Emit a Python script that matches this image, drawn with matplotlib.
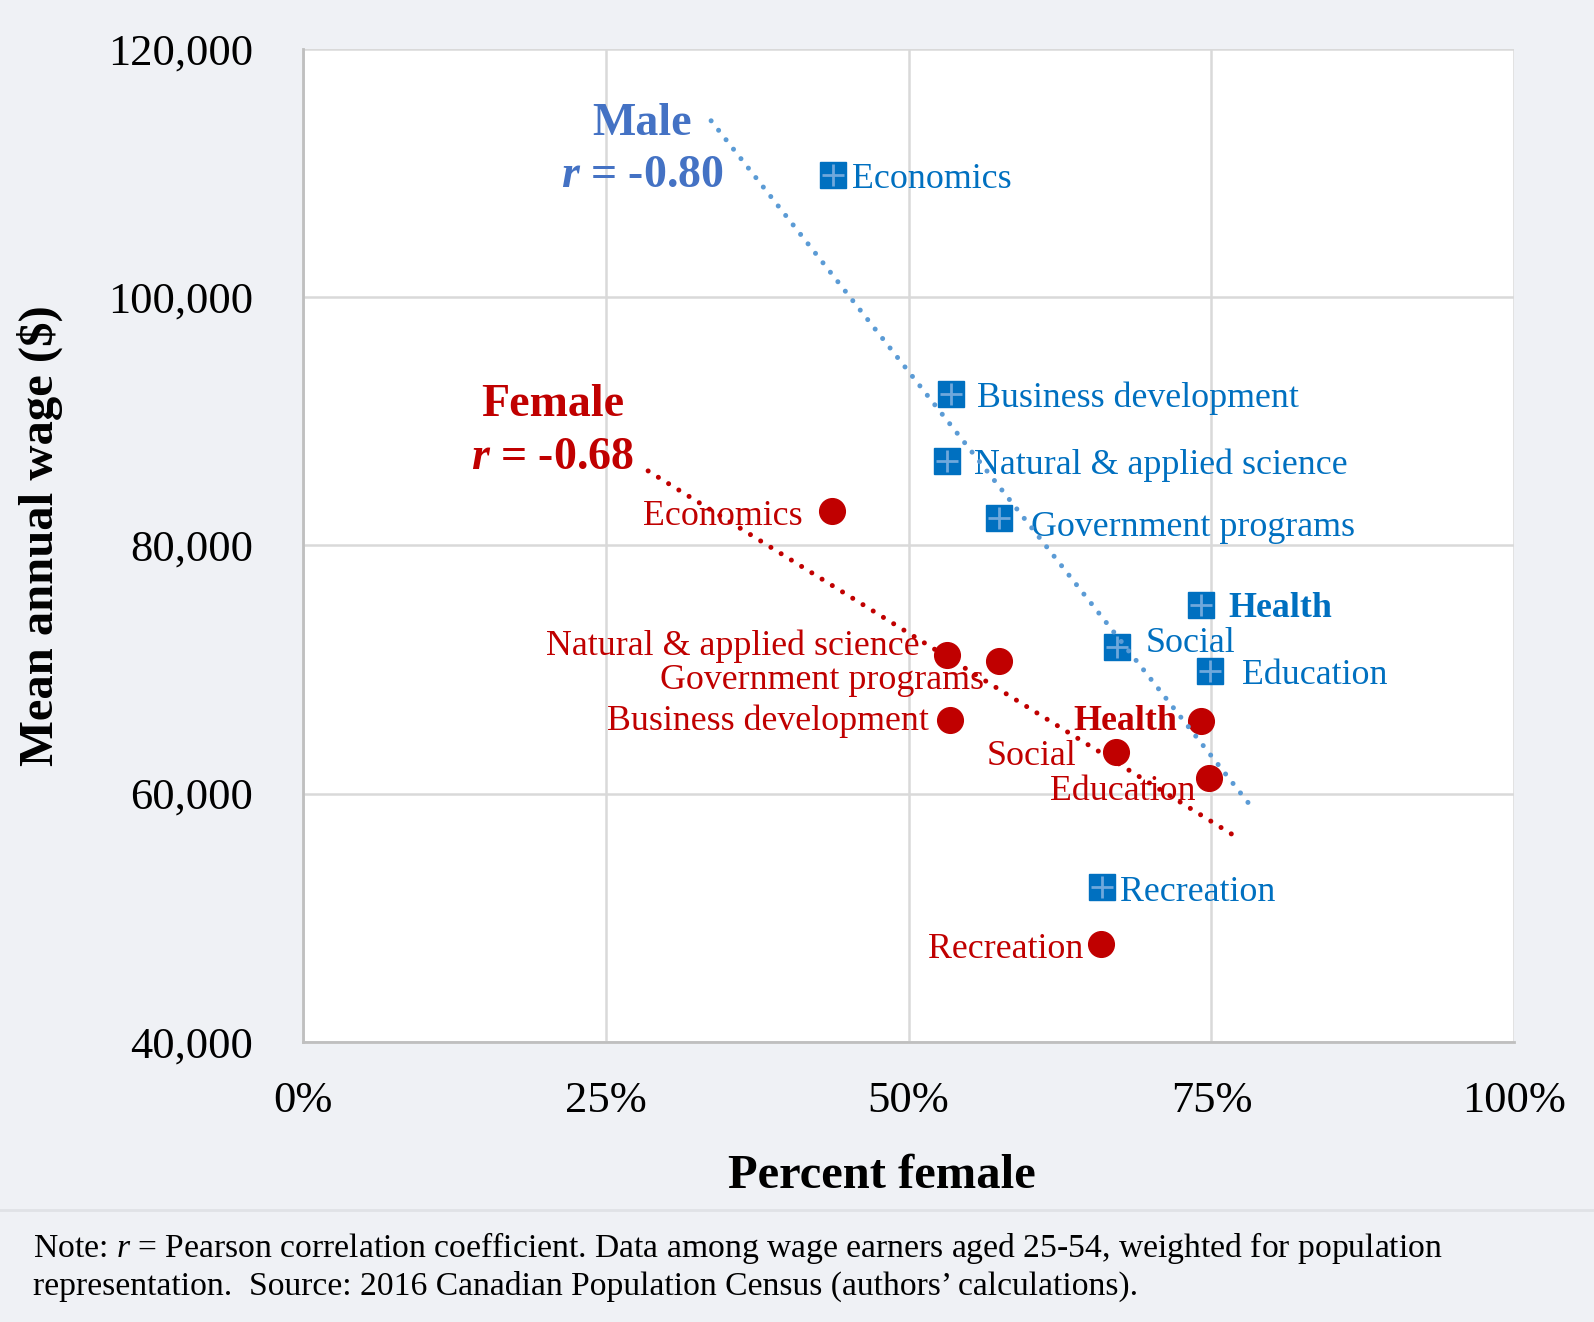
import numpy as np
import matplotlib
matplotlib.use("Agg")
import matplotlib.pyplot as plt

plt.rcParams['font.family'] = ['Liberation Serif', 'DejaVu Serif']
plt.rcParams['mathtext.fontset'] = 'custom'
plt.rcParams['mathtext.rm'] = 'Liberation Serif'
plt.rcParams['mathtext.it'] = 'Liberation Serif:italic'
plt.rcParams['mathtext.bf'] = 'Liberation Serif:bold'
plt.rcParams['mathtext.bfit'] = 'Liberation Serif:bold:italic'

# данные
fields = ["Economics", "Business development", "Natural & applied science",
          "Government programs", "Health", "Social", "Education", "Recreation"]
male_pct = [43.8, 53.5, 53.2, 57.5, 74.1, 67.2, 74.9, 66.0]
male_wage = [109850, 92160, 86755, 82170, 75210, 71770, 69890, 52450]
female_pct = [43.7, 53.4, 53.2, 57.5, 74.1, 67.1, 74.8, 65.9]
female_wage = [82740, 65960, 71200, 70700, 65875, 63340, 61290, 47860]
male_r = -0.80
female_r = -0.68
male_trend_range = [33.7, 78.6]
female_trend_range = [28.5, 76.9]

# смещения подписей (в пунктах)
male_offsets = [(13, -3), (19, -3), (19, -3), (23, -6.5), (20, -3), (20.5, 2.5), (23, -3.5), (13, -3.5)]
female_offsets = [(-21, -3.5), (-15, -1.5), (-20, 6), (-11, -14), (-17, -0.5), (-28.5, -3.5), (-9.5, -10), (-13, -3.5)]

BG = '#EFF1F5'
MALE = '#0070C0'
MALE_TITLE = '#4472C4'
MALE_TREND = '#5B9BD5'
FEMALE = '#C00000'

fig = plt.figure(figsize=(15.94, 13.22), dpi=100, facecolor=BG)
ax = fig.add_axes([0.190, 0.212, 0.760, 0.751])
ax.set_facecolor('white')

ax.set_xlim(0, 100)
ax.set_ylim(40000, 120000)
ax.set_xticks([0, 25, 50, 75, 100])
ax.set_xticklabels(['0%', '25%', '50%', '75%', '100%'])
ax.set_yticks([40000, 60000, 80000, 100000, 120000])
ax.set_yticklabels([f"{v:,}" for v in [40000, 60000, 80000, 100000, 120000]])
ax.tick_params(length=0, labelsize=32, colors='black')
ax.tick_params(axis='x', pad=28)
ax.tick_params(axis='y', pad=36)
ax.grid(True, color='#D9D9D9', lw=1.8)
ax.set_axisbelow(True)
for s in ['top', 'right']:
    ax.spines[s].set_visible(False)
for s in ['left', 'bottom']:
    ax.spines[s].set_color('#BFBFBF')
    ax.spines[s].set_linewidth(2)

# точки
ax.plot(male_pct, male_wage, 's', ms=19, color=MALE, zorder=3)
ax.plot(male_pct, male_wage, '+', ms=16, mew=2, color='#6FA8DC', zorder=3.1)
ax.plot(female_pct, female_wage, 'o', ms=18.5, color=FEMALE, zorder=3)

# линии тренда
dot = dict(lw=3.6, linestyle=(0, (0.01, 2.4)), dash_capstyle='round', zorder=5)
k, b = np.polyfit(male_pct, male_wage, 1)
tx = np.array(male_trend_range)
ax.plot(tx, k * tx + b, color=MALE_TREND, **dot)
k, b = np.polyfit(female_pct, female_wage, 1)
tx = np.array(female_trend_range)
ax.plot(tx, k * tx + b, color=FEMALE, **dot)

# подписи
for i, name in enumerate(fields):
    w = 'bold' if name == 'Health' else 'normal'
    ax.annotate(name, (male_pct[i], male_wage[i]), xytext=male_offsets[i],
                textcoords='offset points', ha='left', va='center',
                fontsize=25.8, color=MALE, fontweight=w, zorder=4)
    ax.annotate(name, (female_pct[i], female_wage[i]), xytext=female_offsets[i],
                textcoords='offset points', ha='right', va='center',
                fontsize=25.8, color=FEMALE, fontweight=w, zorder=4)

ax.text(28.0, 113970, 'Male', ha='center', va='center', fontsize=33,
        fontweight='bold', color=MALE_TITLE)
ax.text(28.0, 109790, r'$\mathbfit{r}$ = ' + f'{male_r:.2f}', ha='center', va='center',
        fontsize=33, fontweight='bold', color=MALE_TITLE)
ax.text(20.6, 91270, 'Female', ha='center', va='center', fontsize=33,
        fontweight='bold', color=FEMALE)
ax.text(20.6, 87010, r'$\mathbfit{r}$ = ' + f'{female_r:.2f}', ha='center', va='center',
        fontsize=33, fontweight='bold', color=FEMALE)

ax.set_xlabel('Percent female', fontsize=35, fontweight='bold')
ax.set_ylabel('Mean annual wage ($)', fontsize=35, fontweight='bold')
ax.xaxis.set_label_coords(0.478, -0.113)
ax.yaxis.set_label_coords(-0.198, 0.51)

# примечание
fig.add_artist(plt.Line2D([0, 1], [0.085, 0.085], color='#E0E2E6', lw=2))
fig.text(0.0204, 0.056,
         'Note: $r$ = Pearson correlation coefficient. Data among wage earners aged 25-54, weighted for population',
         fontsize=24.2, va='center', ha='left')
fig.text(0.0204, 0.027,
         'representation.  Source: 2016 Canadian Population Census (authors\u2019 calculations).',
         fontsize=24.2, va='center', ha='left')

fig.savefig('out.png', dpi=100, facecolor=BG)
